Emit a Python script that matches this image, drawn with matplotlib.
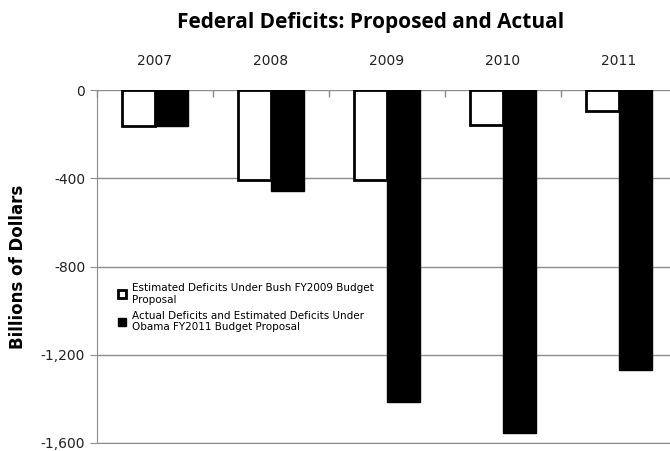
import numpy as np
import matplotlib
matplotlib.use("Agg")
import matplotlib.pyplot as plt
from matplotlib.ticker import FuncFormatter

# Chart data (billions of dollars)
years = ["2007", "2008", "2009", "2010", "2011"]
bush_estimates = [-162, -410, -407, -160, -95]
actual_obama = [-161, -459, -1413, -1556, -1267]
labels = ["Estimated Deficits Under Bush FY2009 Budget\nProposal",
          "Actual Deficits and Estimated Deficits Under\nObama FY2011 Budget Proposal"]

fig = plt.figure(figsize=(6.7, 4.51), dpi=100)
ax = fig.add_axes([97 / 670, 8 / 451, 580 / 670, 353 / 451])

x = np.arange(len(years))
w = 0.285
ax.bar(x - w / 2, bush_estimates, w, color="white", edgecolor="black",
       linewidth=2, label=labels[0], zorder=3)
ax.bar(x + w / 2, actual_obama, w, color="black", edgecolor="black",
       linewidth=1, label=labels[1], zorder=3)

ax.set_xlim(-0.5, len(years) - 0.5)
ax.set_ylim(-1600, 0)
ax.set_yticks([0, -400, -800, -1200, -1600])
ax.yaxis.set_major_formatter(FuncFormatter(lambda v, p: f"{int(v):,}"))
ax.yaxis.grid(True, color="#8c8c8c", linewidth=1, zorder=0)

# years across the top, boundary ticks on the zero line
ax.xaxis.tick_top()
ax.set_xticks(x)
ax.set_xticklabels(years)
ax.set_xticks(np.arange(len(years) + 1) - 0.5, minor=True)
ax.tick_params(axis="x", which="major", length=0, pad=16, labelsize=10, labelcolor="#222222")
ax.tick_params(axis="x", which="minor", direction="in", length=5, color="#8c8c8c", width=1)
ax.tick_params(axis="y", length=5, color="#8c8c8c", labelsize=10, labelcolor="#222222")

for side in ["top", "right"]:
    ax.spines[side].set_visible(False)
ax.spines["left"].set_color("#8c8c8c")
ax.spines["bottom"].set_color("#8c8c8c")

ax.set_ylabel("Billions of Dollars", fontsize=12, fontweight="bold", labelpad=10)
fig.text(0.553, 0.95, "Federal Deficits: Proposed and Actual", ha="center", va="center",
         fontsize=15, fontweight="bold", family="Open Sans")

ax.legend(loc="upper left", bbox_to_anchor=(0.02, 0.48), frameon=False, fontsize=7.5,
          handlelength=0.8, handleheight=0.8, handletextpad=0.5, labelspacing=0.6)

fig.savefig("out.png", dpi=100)
